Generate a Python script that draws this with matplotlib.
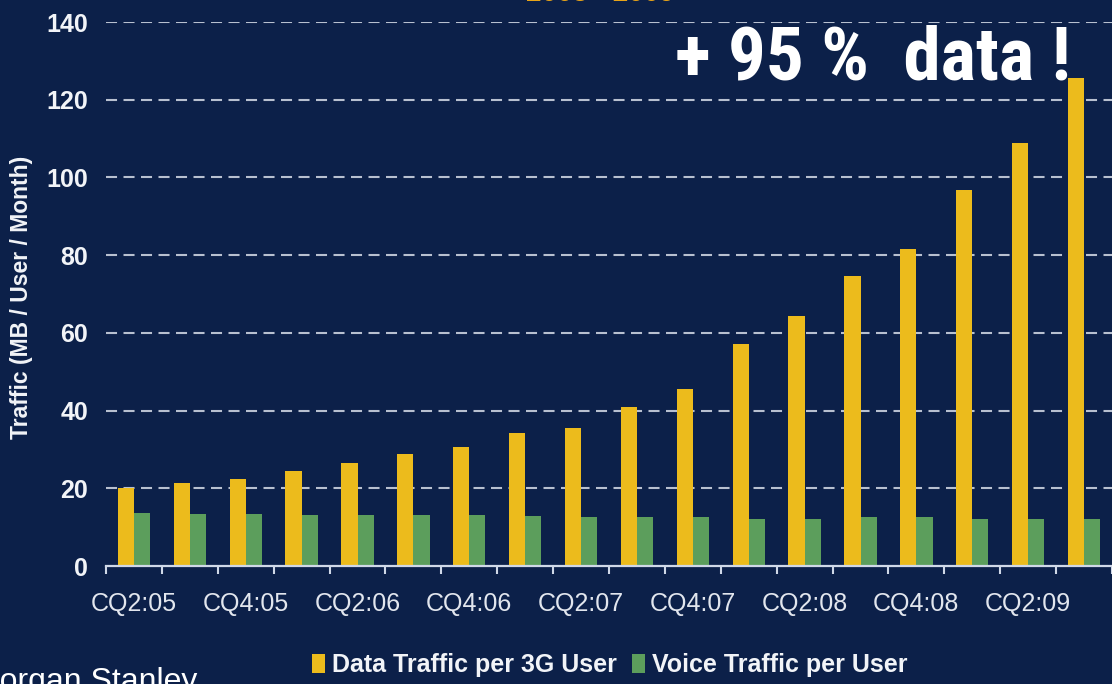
import matplotlib
matplotlib.use("Agg")
import matplotlib.pyplot as plt
from matplotlib.patches import Patch

quarters = ["CQ2:05", "CQ3:05", "CQ4:05", "CQ1:06", "CQ2:06", "CQ3:06", "CQ4:06",
            "CQ1:07", "CQ2:07", "CQ3:07", "CQ4:07", "CQ1:08", "CQ2:08", "CQ3:08",
            "CQ4:08", "CQ1:09", "CQ2:09", "CQ3:09"]
data_traffic = [20.1, 21.4, 22.4, 24.4, 26.5, 28.8, 30.6, 34.2, 35.5, 40.9, 45.5,
                57.1, 64.3, 74.6, 81.6, 96.8, 108.9, 125.6]
voice_traffic = [13.6, 13.5, 13.4, 13.2, 13.2, 13.1, 13.1, 12.8, 12.7, 12.7, 12.6,
                 12.2, 12.2, 12.6, 12.6, 12.2, 12.2, 12.2]
yticks = [0, 20, 40, 60, 80, 100, 120, 140]
series_names = ["Data Traffic per 3G User", "Voice Traffic per User"]

BG = "#0c2049"
YEL = "#ecbb1c"
GRN = "#5c9e5c"
GRID = "#b8c0d0"
TXT = "#f2f4f8"

W, H = 1112, 684
fig = plt.figure(figsize=(W / 100, H / 100), dpi=100, facecolor=BG)
ax = fig.add_axes([106 / W, (H - 566) / H, 1006 / W, 544 / H])
ax.set_facecolor(BG)

n = len(quarters)
x = list(range(n))
bw = 0.29
ax.bar([i - bw / 2 for i in x], data_traffic, width=bw, color=YEL, zorder=3)
ax.bar([i + bw / 2 for i in x], voice_traffic, width=bw, color=GRN, zorder=3)

ax.set_xlim(-0.5, n - 0.5)
ax.set_ylim(0, 140)
ax.set_yticks(yticks)
ax.set_yticklabels([str(v) for v in yticks], fontsize=18, fontweight="bold",
                   color=TXT, family="Liberation Sans")
ax.tick_params(axis="y", length=0, pad=13)

for v in yticks[1:]:
    ax.axhline(v, color=GRID, lw=1.5, linestyle=(0, (5.3, 3.1)), zorder=1)

ax.set_xticks([i - 0.5 for i in range(n + 1)])
ax.set_xticklabels([])
ax.tick_params(axis="x", which="major", length=6, width=1.5, color="#d0d8e8",
               direction="out")
ax.set_xticks(x[::2], minor=True)
ax.set_xticklabels(quarters[::2], minor=True, fontsize=18, color="#e2e6ee",
                   family="Liberation Sans")
ax.tick_params(axis="x", which="minor", length=0, pad=19)

for s in ["top", "right", "left"]:
    ax.spines[s].set_visible(False)
ax.spines["bottom"].set_color("#d0d8e8")
ax.spines["bottom"].set_linewidth(1.6)
ax.spines["bottom"].set_zorder(4)

fig.text(22 / W, 1 - 297 / H, "Traffic (MB / User / Month)", rotation=90,
         ha="center", va="center", fontsize=16.5, fontweight="bold", color=TXT,
         family="Liberation Sans")

fig.text(873 / W, 1 - 80 / H, "+ 95 %  data !", ha="center", va="baseline",
         fontsize=54, fontweight="bold", fontstretch="condensed", color="white",
         family=["Roboto Condensed", "Liberation Sans Narrow", "Liberation Sans"])

fig.text(600 / W, 1 - 1 / H, "2005 - 2009", ha="center", va="baseline",
         fontsize=20, fontweight="bold", color="#e8a418", family="Liberation Sans")

fig.text(-27 / W, -6 / H, "Morgan Stanley", ha="left", va="baseline",
         fontsize=23, color="white", family="Liberation Sans")

handles = [Patch(facecolor=YEL, edgecolor="none"), Patch(facecolor=GRN, edgecolor="none")]
leg = fig.legend(handles, series_names, loc="center", bbox_to_anchor=(610 / W, 1 - 665 / H),
                 ncol=2, frameon=False, handlelength=0.5, handleheight=0.8,
                 handletextpad=0.3, columnspacing=0.6,
                 prop={"family": "Liberation Sans", "weight": "bold", "size": 18})
for t in leg.get_texts():
    t.set_color(TXT)

fig.savefig("out.png", dpi=100, facecolor=BG)
